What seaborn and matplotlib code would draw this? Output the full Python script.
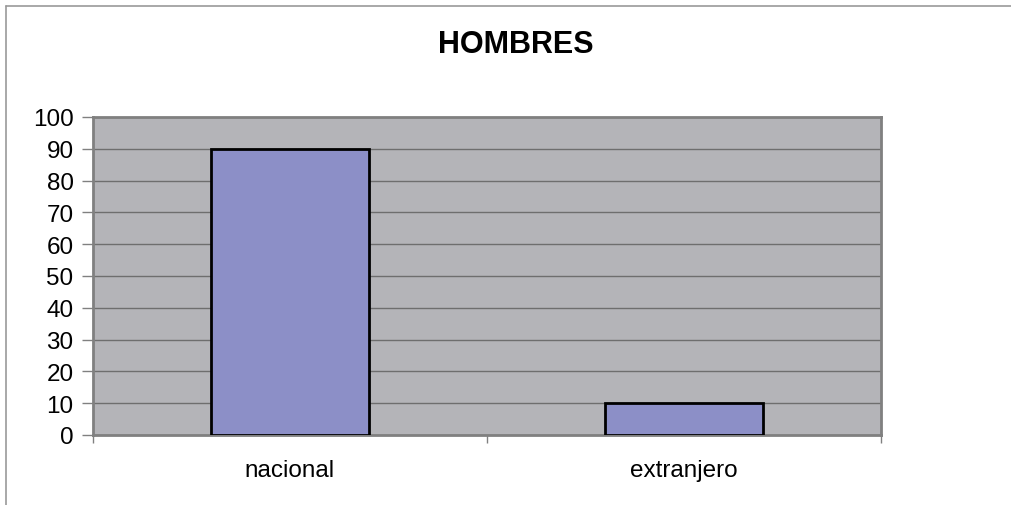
import numpy as np
import pandas as pd
import matplotlib
matplotlib.use("Agg")
import matplotlib.pyplot as plt
import seaborn as sb

categories = ["nacional", "extranjero"]
values = [90, 10]
yticks = [0, 10, 20, 30, 40, 50, 60, 70, 80, 90, 100]

sb.set_style("white")
plt.rcParams["font.family"] = ["Liberation Sans", "DejaVu Sans"]
plt.rcParams["text.color"] = "black"
plt.rcParams["xtick.color"] = "black"
plt.rcParams["ytick.color"] = "black"

df = pd.DataFrame({"origen": categories, "valor": values})

fig = plt.figure(figsize=(10.12, 5.06), dpi=100)
ax = fig.add_axes([93 / 1012, 1 - 436 / 506, 788 / 1012, 318 / 506])
ax.set_facecolor("#b4b4b8")

sb.barplot(data=df, x="origen", y="valor", color="#8c8fc7", width=0.4,
           saturation=1, edgecolor="black", linewidth=2, ax=ax, zorder=3)

ax.set_xlim(-0.5, 1.5)
ax.set_ylim(0, 100)
ax.set_yticks(yticks)
ax.set_yticklabels([str(t) for t in yticks], fontsize=17.5, color="black")
ax.yaxis.grid(True, color="#6e6e6e", linewidth=1.0, zorder=1)
ax.set_axisbelow(True)
ax.tick_params(axis="y", left=True, length=8, width=1, color="#808080", pad=6, labelcolor="black")
ax.tick_params(axis="x", bottom=False, labelsize=17.5, pad=14, labelcolor="black")
ax.set_xticks([-0.5, 0.5, 1.5], minor=True)
ax.tick_params(axis="x", which="minor", bottom=True, length=6, width=1, color="#808080")
ax.set_xlabel("")
ax.set_ylabel("")
for s in ax.spines.values():
    s.set_color("#808080")
    s.set_linewidth(2)
    s.set_visible(True)

fig.text(516 / 1012, 1 - 45 / 506, "HOMBRES", ha="center", va="center",
         fontsize=22, fontweight="bold", color="black")

# outer border (left and top edges visible)
fig.add_artist(plt.Line2D([6 / 1012, 6 / 1012], [0, 1 - 7 / 506], color="#999999", linewidth=1.2, transform=fig.transFigure))
fig.add_artist(plt.Line2D([6 / 1012, 1], [1 - 7 / 506, 1 - 7 / 506], color="#999999", linewidth=1.2, transform=fig.transFigure))

fig.savefig("out.png", dpi=100)
